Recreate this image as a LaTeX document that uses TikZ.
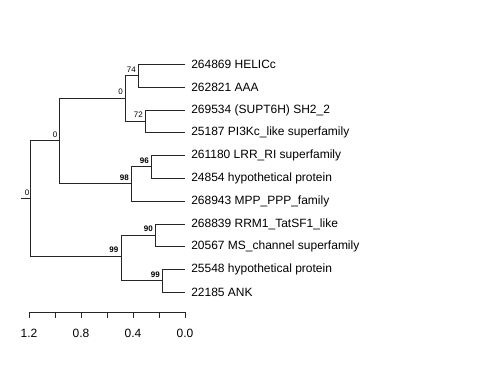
\documentclass[tikz,border=0pt]{standalone}
\usepackage{fontspec}
\setmainfont{Liberation Sans}
\begin{document}
\begin{tikzpicture}[x=0.75pt,y=-0.75pt,
  br/.style={draw=black!85,line width=0.7pt},
  leaf/.style={anchor=west,inner sep=0pt,font=\fontsize{9}{10}\selectfont},
  bs/.style={anchor=base east,inner sep=0pt,font=\fontsize{6}{7}\selectfont},
  bsb/.style={bs,font=\fontsize{6}{7}\selectfont\bfseries},
  axl/.style={anchor=base,inner sep=0pt,font=\fontsize{9}{10}\selectfont}]
\useasboundingbox (0,0) rectangle (480,384);
% internal nodes
\coordinate (root) at (30.5,198.5);
\coordinate (stub) at (21,198.5);
\coordinate (A) at (59.5,140.5);
\coordinate (B) at (125,98);
\coordinate (C) at (138.5,75.5);
\coordinate (D) at (145.5,121);
\coordinate (E) at (131.5,183.5);
\coordinate (F) at (151.5,166.5);
\coordinate (G) at (121,256);
\coordinate (H) at (155.5,235);
\coordinate (I) at (162.5,280.5);
% leaves
\foreach \n/\y in {1/64,2/87,3/110,4/132,5/155,6/178,7/201,8/224,9/246,10/269,11/292}
  \coordinate (t\n) at (185,\y);
\node[leaf] (l1) at (191,64) {264869 HELICc};
\node[leaf] (l2) at (191,87) {262821 AAA};
\node[leaf] (l3) at (191,110) {269534 (SUPT6H) SH2\_2};
\node[leaf] (l4) at (191,132) {25187 PI3Kc\_like superfamily};
\node[leaf] (l5) at (191,155) {261180 LRR\_RI superfamily};
\node[leaf] (l6) at (191,178) {24854 hypothetical protein};
\node[leaf] (l7) at (191,201) {268943 MPP\_PPP\_family};
\node[leaf] (l8) at (191,224) {268839 RRM1\_TatSF1\_like};
\node[leaf] (l9) at (191,246) {20567 MS\_channel superfamily};
\node[leaf] (l10) at (191,269) {25548 hypothetical protein};
\node[leaf] (l11) at (191,292) {22185 ANK};
% branches
\draw[br] (stub) -- (root);
\draw[br] (root) |- (A);
\draw[br] (root) |- (G);
\draw[br] (A) |- (B);
\draw[br] (A) |- (E);
\draw[br] (B) |- (C);
\draw[br] (B) |- (D);
\draw[br] (C) |- (t1);
\draw[br] (C) |- (t2);
\draw[br] (D) |- (t3);
\draw[br] (D) |- (t4);
\draw[br] (E) |- (F);
\draw[br] (E) |- (t7);
\draw[br] (F) |- (t5);
\draw[br] (F) |- (t6);
\draw[br] (G) |- (H);
\draw[br] (G) |- (I);
\draw[br] (H) |- (t8);
\draw[br] (H) |- (t9);
\draw[br] (I) |- (t10);
\draw[br] (I) |- (t11);
% support labels
\node[bs] (sroot) at (29.5,196) {0};
\node[bs] (sA) at (57.5,137.5) {0};
\node[bs] (sB) at (123,95) {0};
\node[bs] (sC) at (136,72.5) {74};
\node[bs] (sD) at (143,118) {72};
\node[bsb] (sE) at (129,180.5) {98};
\node[bsb] (sF) at (149,163.5) {96};
\node[bsb] (sG) at (118.5,253) {99};
\node[bsb] (sH) at (153,232) {90};
\node[bsb] (sI) at (160,277.5) {99};
% scale axis
\coordinate (ax0) at (29,312);
\coordinate (ax1) at (185,312);
\draw[br] (ax0) -- (ax1);
\foreach \i in {0,...,6}{
  \draw[br] (29+26*\i,312) -- (29+26*\i,318);
}
\node[axl] (a12) at (29,338) {1.2};
\node[axl] (a08) at (81,338) {0.8};
\node[axl] (a04) at (133,338) {0.4};
\node[axl] (a00) at (185,338) {0.0};
\end{tikzpicture}
\end{document}
